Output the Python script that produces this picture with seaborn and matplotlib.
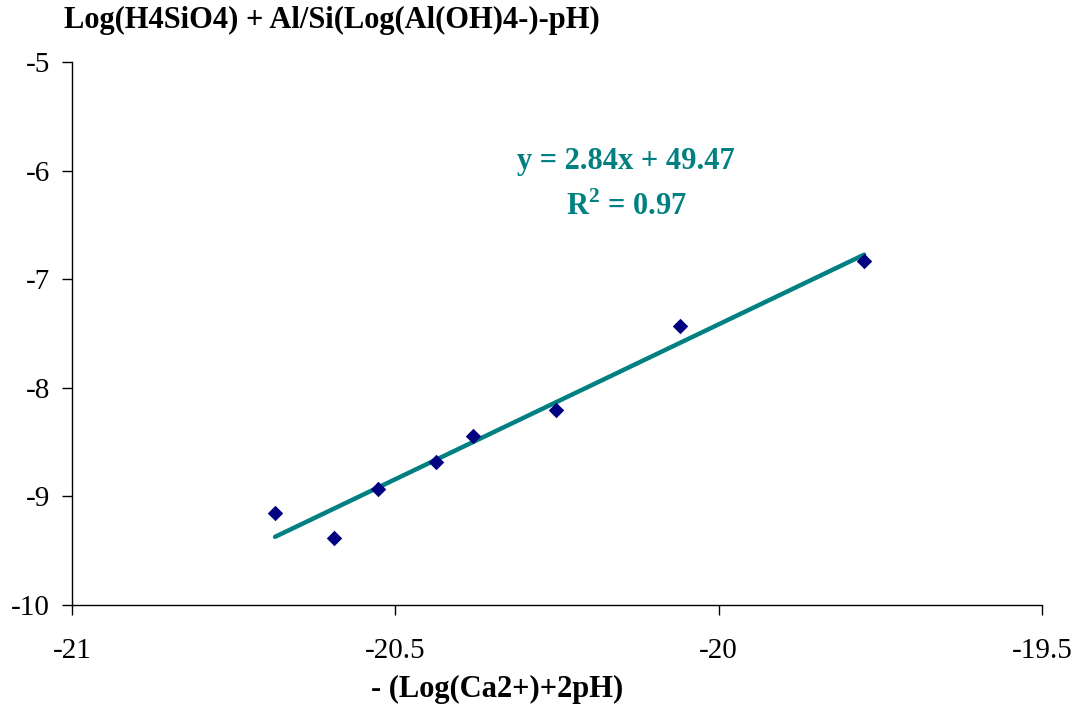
import matplotlib
matplotlib.use("Agg")
import matplotlib.pyplot as plt
import seaborn as sns
import numpy as np
import pandas as pd

# values
ca_term = [-20.686, -20.595, -20.527, -20.437, -20.380, -20.252, -20.060, -19.775]
si_term = [-9.153, -9.383, -8.932, -8.683, -8.444, -8.204, -7.431, -6.832]
x_ticks = [-21, -20.5, -20, -19.5]
y_ticks = [-10, -9, -8, -7, -6, -5]
eq_text = "y = 2.84x + 49.47"
r2_text = r"R$^{\mathbf{2}}$ = 0.97"

sns.set_style("ticks")
plt.rcParams['font.family'] = ['Liberation Serif', 'DejaVu Serif']
plt.rcParams['text.color'] = 'black'
plt.rcParams['mathtext.fontset'] = 'custom'
plt.rcParams['mathtext.bf'] = 'Liberation Serif:bold'
plt.rcParams['mathtext.rm'] = 'Liberation Serif:bold'

df = pd.DataFrame({"x": ca_term, "y": si_term})

fig = plt.figure(figsize=(10.78, 7.09), dpi=100)
ax = fig.add_axes([0.0668, 0.1467, 0.8998, 0.7659])

sns.regplot(data=df, x="x", y="y", ax=ax, ci=None, truncate=True,
            marker="D", color="#000080",
            scatter_kws={"s": 62, "color": "#000080", "alpha": 1,
                         "linewidths": 0, "zorder": 3},
            line_kws={"color": "#008080", "linewidth": 3.2, "zorder": 2,
                      "solid_capstyle": "round"})

ax.set_xlim(-21, -19.5)
ax.set_ylim(-10, -5)
ax.set_xticks(x_ticks)
ax.set_xticklabels(["%g" % t for t in x_ticks])
ax.set_yticks(y_ticks)
ax.set_yticklabels(["%g" % t for t in y_ticks])
ax.tick_params(axis="both", labelsize=21, colors="black", length=7, width=1, direction="out")
ax.tick_params(axis="x", pad=17)
ax.tick_params(axis="y", pad=9)
for side in ["top", "right"]:
    ax.spines[side].set_visible(False)
for side in ["left", "bottom"]:
    ax.spines[side].set_color("black")
    ax.spines[side].set_linewidth(1)

ax.set_xlabel("")
ax.set_ylabel("")
fig.text(0.461, 0.028, "- (Log(Ca2+)+2pH)", fontsize=22, fontweight="bold",
         ha="center", va="center", color="black")
fig.text(0.059, 0.971, "Log(H4SiO4) + Al/Si(Log(Al(OH)4-)-pH)", fontsize=22,
         fontweight="bold", ha="left", va="center", color="black")

ax.text(-20.143, -5.92, eq_text, fontsize=22, fontweight="bold", color="#008080",
        ha="center", va="center")
ax.text(-20.143, -6.33, r2_text, fontsize=22, fontweight="bold", color="#008080",
        ha="center", va="center")

fig.savefig("out.png", dpi=100, facecolor="white")
